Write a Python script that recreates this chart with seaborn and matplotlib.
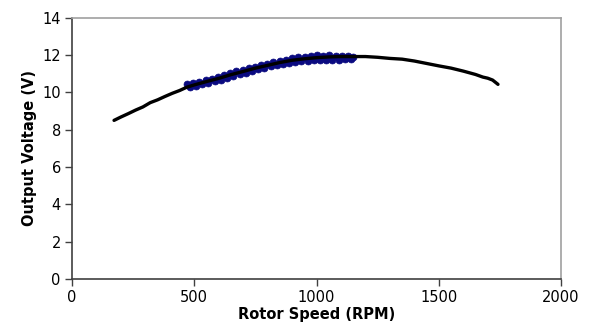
import matplotlib
matplotlib.use("Agg")
import matplotlib.pyplot as plt
import seaborn as sns
import pandas as pd

# Model curve (black line)
model_rpm = [172, 200, 230, 260, 290, 320, 350, 380, 410, 440, 470, 500, 550, 600,
             650, 700, 750, 800, 850, 900, 950, 1000, 1050, 1100, 1150, 1200, 1250,
             1300, 1350, 1400, 1450, 1500, 1550, 1600, 1650, 1680, 1700, 1720, 1742]
model_v = [8.50, 8.68, 8.86, 9.05, 9.22, 9.45, 9.60, 9.78, 9.95, 10.10, 10.28, 10.40,
           10.58, 10.75, 10.95, 11.12, 11.30, 11.45, 11.60, 11.72, 11.80, 11.86, 11.90,
           11.92, 11.92, 11.92, 11.88, 11.82, 11.78, 11.68, 11.55, 11.42, 11.30, 11.14,
           10.96, 10.82, 10.76, 10.66, 10.43]

# Measured data (blue markers)
meas_rpm = [470, 482, 495, 508, 520, 533, 546, 558, 571, 584, 596, 609, 622, 634, 647,
            660, 672, 685, 698, 710, 723, 736, 748, 761, 774, 786, 799, 812, 824, 837,
            850, 862, 875, 888, 900, 913, 926, 938, 951, 964, 976, 989, 1002, 1014,
            1027, 1040, 1052, 1065, 1078, 1090, 1103, 1116, 1128, 1141, 1150]
meas_v = [10.45, 10.30, 10.52, 10.36, 10.58, 10.44, 10.66, 10.50, 10.74, 10.60, 10.84,
          10.68, 10.94, 10.78, 11.03, 10.88, 11.12, 10.97, 11.20, 11.06, 11.28, 11.16,
          11.38, 11.24, 11.46, 11.32, 11.54, 11.40, 11.62, 11.46, 11.70, 11.52, 11.76,
          11.58, 11.82, 11.62, 11.88, 11.66, 11.92, 11.68, 11.96, 11.72, 11.98, 11.74,
          11.96, 11.72, 12.00, 11.74, 11.96, 11.72, 11.94, 11.78, 11.94, 11.80, 11.92]

x_ticks = [0, 500, 1000, 1500, 2000]
y_ticks = [0, 2, 4, 6, 8, 10, 12, 14]

sns.set_theme(style="white")
plt.rcParams['font.family'] = ['DejaVu Sans']
plt.rcParams['text.color'] = 'black'
plt.rcParams['axes.labelcolor'] = 'black'

fig = plt.figure(figsize=(5.9, 3.32), dpi=100)
ax = fig.add_axes([0.122, 0.1596, 0.829, 0.787])

dm = pd.DataFrame({"rpm": meas_rpm, "v": meas_v})
dl = pd.DataFrame({"rpm": model_rpm, "v": model_v})

sns.lineplot(data=dm, x="rpm", y="v", ax=ax, color="#0a0a80", linewidth=3.0,
             sort=False, marker="o", markersize=5, markeredgecolor="#0a0a80",
             markerfacecolor="#0a0a80", markeredgewidth=0.5, zorder=2)
sns.lineplot(data=dl, x="rpm", y="v", ax=ax, color="black", linewidth=2.4,
             sort=False, zorder=3)

ax.set_xlim(0, 2000)
ax.set_ylim(0, 14)
ax.set_xticks(x_ticks)
ax.set_yticks(y_ticks)
ax.tick_params(axis="both", which="major", length=5, width=1, color="#404040",
               direction="out", labelsize=10.5, pad=3, labelcolor="black",
               bottom=True, left=True)

for side in ["left", "bottom"]:
    ax.spines[side].set_color("#404040")
    ax.spines[side].set_linewidth(1.2)
for side in ["top", "right"]:
    ax.spines[side].set_color("#a0a0a0")
    ax.spines[side].set_linewidth(1.2)

ax.set_xlabel("Rotor Speed (RPM)", fontsize=10.5, fontweight="bold", labelpad=1,
              color="black")
ax.set_ylabel("Output Voltage (V)", fontsize=10.5, fontweight="bold", labelpad=4,
              color="black")

fig.savefig("out.png", dpi=100)
